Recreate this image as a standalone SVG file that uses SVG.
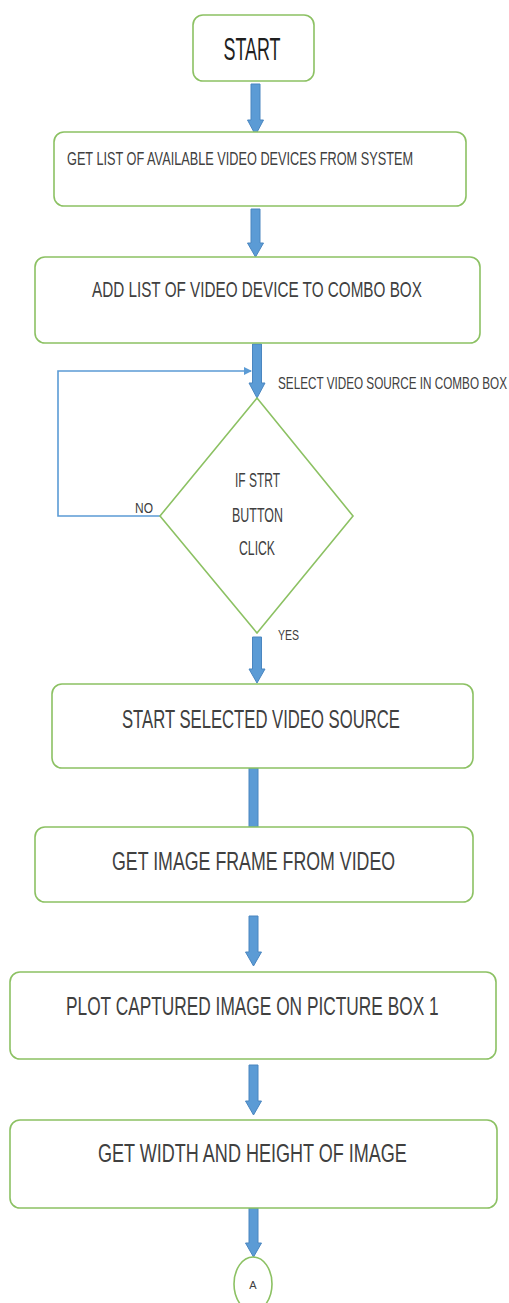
<svg xmlns="http://www.w3.org/2000/svg" width="509" height="1303" viewBox="0 0 509 1303">
<defs>
<style>
.box{fill:#fff;stroke:#8cc163;stroke-width:1.6}
.t{font-family:"Liberation Sans",Arial,sans-serif;fill:#404040}
.blk{fill:#5b9bd5;stroke:#4a86c0;stroke-width:1}
.loop{fill:none;stroke:#5b9bd5;stroke-width:1.6}
</style>
<marker id="ah" markerWidth="8" markerHeight="8" refX="7" refY="4" orient="auto" markerUnits="userSpaceOnUse">
<path d="M0,0 L8,4 L0,8 Z" fill="#5b9bd5"/>
</marker>
</defs>
<rect width="509" height="1303" fill="#fff"/>

<g id="connectors">
<path class="blk" d="M251,84 H260 V120 H263.5 L255.5,135 L247.5,120 H251 Z"/>
<path class="blk" d="M251,209 H260 V243 H263.5 L255.5,257 L247.5,243 H251 Z"/>
<path class="blk" d="M252.5,344 H261.5 V383 H265 L257,398 L249,383 H252.5 Z"/>
<path class="blk" d="M252.5,637 H261.5 V669 H265 L257,683 L249,669 H252.5 Z"/>
<path class="blk" d="M249,768 H258 V829 H261.5 L253.5,843 L245.5,829 H249 Z"/>
<path class="blk" d="M249,916 H258 V952 H261.5 L253.5,966 L245.5,952 H249 Z"/>
<path class="blk" d="M249,1065 H258 V1101 H261.5 L253.5,1115 L245.5,1101 H249 Z"/>
<path class="blk" d="M249,1208 H258 V1243 H261.5 L253.5,1257 L245.5,1243 H249 Z"/>
<path class="loop" d="M160,516 H58 V371 H251" marker-end="url(#ah)"/>
<text class="t" transform="translate(135,513) scale(0.8,1)" font-size="15" textLength="22.5" lengthAdjust="spacingAndGlyphs">NO</text>
<text class="t" transform="translate(278,640) scale(0.7,1)" font-size="15" textLength="30" lengthAdjust="spacingAndGlyphs">YES</text>
<text class="t" transform="translate(278,389) scale(0.734,1)" font-size="16" textLength="312" lengthAdjust="spacingAndGlyphs">SELECT VIDEO SOURCE IN COMBO BOX</text>
</g>

<g id="start">
<rect class="box" x="193" y="15" width="121" height="66" rx="10"/>
<text class="t" transform="translate(252,60) scale(0.56,1)" font-size="31" text-anchor="middle" textLength="102" lengthAdjust="spacingAndGlyphs" style="fill:#1f1f1f">START</text>
</g>

<g id="get-list">
<rect class="box" x="54" y="132" width="412" height="74" rx="10"/>
<text class="t" transform="translate(67,165) scale(0.709,1)" font-size="18" textLength="488" lengthAdjust="spacingAndGlyphs">GET LIST OF AVAILABLE VIDEO DEVICES FROM SYSTEM</text>
</g>

<g id="add-list">
<rect class="box" x="35" y="257" width="445" height="86" rx="10"/>
<text class="t" transform="translate(92,297) scale(0.696,1)" font-size="22" textLength="474" lengthAdjust="spacingAndGlyphs">ADD LIST OF VIDEO DEVICE TO COMBO BOX</text>
</g>

<g id="decision">
<polygon class="box" points="257,398 353,516 257,633 160,516"/>
<text class="t" transform="translate(257.5,487) scale(0.6,1)" font-size="20" text-anchor="middle" textLength="75" lengthAdjust="spacingAndGlyphs">IF STRT</text>
<text class="t" transform="translate(257.5,522) scale(0.62,1)" font-size="20" text-anchor="middle" textLength="82" lengthAdjust="spacingAndGlyphs">BUTTON</text>
<text class="t" transform="translate(257,555) scale(0.61,1)" font-size="20" text-anchor="middle" textLength="59" lengthAdjust="spacingAndGlyphs">CLICK</text>
</g>

<g id="start-source">
<rect class="box" x="52" y="684" width="421" height="84" rx="10"/>
<text class="t" transform="translate(122,728) scale(0.66,1)" font-size="25" textLength="421" lengthAdjust="spacingAndGlyphs">START SELECTED  VIDEO SOURCE</text>
</g>

<g id="get-frame">
<rect class="box" x="35" y="827" width="438" height="75" rx="10"/>
<text class="t" transform="translate(112,870) scale(0.726,1)" font-size="25" textLength="390" lengthAdjust="spacingAndGlyphs">GET IMAGE FRAME FROM VIDEO</text>
</g>

<g id="plot">
<rect class="box" x="10" y="972" width="486" height="87" rx="10"/>
<text class="t" transform="translate(66,1015) scale(0.69,1)" font-size="25" textLength="540" lengthAdjust="spacingAndGlyphs">PLOT CAPTURED IMAGE ON PICTURE BOX 1</text>
</g>

<g id="get-size">
<rect class="box" x="10" y="1120" width="487" height="88" rx="10"/>
<text class="t" transform="translate(98,1162) scale(0.71,1)" font-size="25" textLength="435" lengthAdjust="spacingAndGlyphs">GET WIDTH AND HEIGHT OF IMAGE</text>
</g>

<g id="connector-a">
<ellipse class="box" cx="253" cy="1284" rx="19" ry="27"/>
<text class="t" x="253" y="1289" font-size="11" text-anchor="middle">A</text>
</g>
</svg>
